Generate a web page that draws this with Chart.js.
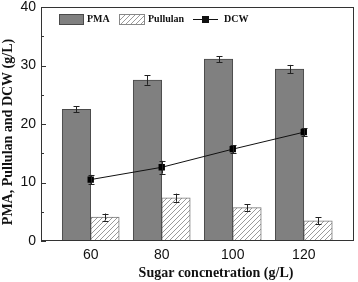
<!DOCTYPE html>
<html>
<head>
<meta charset="utf-8">
<script src="https://cdn.jsdelivr.net/npm/chart.js@4.4.1/dist/chart.umd.min.js"></script>
<style>
  html, body { margin: 0; padding: 0; background: #fff; }
  #wrap { width: 358px; height: 282px; }
</style>
</head>
<body>
<div id="wrap"><canvas id="c" width="358" height="282"></canvas></div>
<script>
// ---- Data ----
const categories = [60, 80, 100, 120];
const pmaValues = [22.5, 27.5, 31.1, 29.4];
const pmaErrors = [0.5, 0.8, 0.5, 0.7];
const pullulanValues = [4.1, 7.4, 5.7, 3.45];
const pullulanErrors = [0.6, 0.7, 0.55, 0.6];
const dcwValues = [10.5, 12.6, 15.7, 18.6];
const dcwErrors = [0.8, 1.1, 0.7, 0.7];
const yTicks = [0, 10, 20, 30, 40];
const seriesNames = ['PMA', 'Pullulan', 'DCW'];
const xTitle = 'Sugar concnetration (g/L)';
const yTitle = 'PMA, Pullulan and DCW (g/L)';

// ---- Styles ----
const PMA_FILL = '#808080';
const PMA_BORDER = '#4a4a4a';
const AXIS_COLOR = '#333333';

function makeHatch() {
  const p = document.createElement('canvas');
  p.width = 5; p.height = 5;
  const g = p.getContext('2d');
  g.fillStyle = '#ffffff';
  g.fillRect(0, 0, 5, 5);
  g.strokeStyle = '#9a9a9a';
  g.lineWidth = 1;
  g.beginPath();
  g.moveTo(-1, 6); g.lineTo(6, -1);
  g.moveTo(-1, 1); g.lineTo(1, -1);
  g.moveTo(4, 6); g.lineTo(6, 4);
  g.stroke();
  return document.getElementById('c').getContext('2d').createPattern(p, 'repeat');
}
const hatch = makeHatch();

const xy = (vals) => categories.map((c, i) => ({ x: c, y: vals[i] }));

const errorBars = {
  id: 'errorBars',
  afterDatasetsDraw(chart) {
    const ctx = chart.ctx;
    const ys = chart.scales.y;
    chart.data.datasets.forEach((ds, di) => {
      if (!ds.errors) return;
      const meta = chart.getDatasetMeta(di);
      meta.data.forEach((el, i) => {
        const v = ds.data[i].y, e = ds.errors[i];
        const x = Math.round(el.x) + 0.5;
        const yt = ys.getPixelForValue(v + e);
        const yb = ys.getPixelForValue(v - e);
        ctx.save();
        ctx.strokeStyle = '#222';
        ctx.lineWidth = 1;
        ctx.beginPath();
        ctx.moveTo(x, yt); ctx.lineTo(x, yb);
        ctx.moveTo(x - 3, Math.round(yt) + 0.5); ctx.lineTo(x + 3, Math.round(yt) + 0.5);
        ctx.moveTo(x - 3, Math.round(yb) + 0.5); ctx.lineTo(x + 3, Math.round(yb) + 0.5);
        ctx.stroke();
        ctx.restore();
      });
    });
  }
};

const frameAndDecor = {
  id: 'frameAndDecor',
  afterDraw(chart) {
    const ctx = chart.ctx;
    const a = chart.chartArea;
    const ys = chart.scales.y;
    ctx.save();
    // frame
    ctx.strokeStyle = AXIS_COLOR;
    ctx.lineWidth = 1;
    ctx.strokeRect(Math.round(a.left) + 0.5, Math.round(a.top) + 0.5,
                   Math.round(a.right - a.left) - 1, Math.round(a.bottom - a.top) - 1);
    // inward y ticks (major + minor)
    ctx.beginPath();
    for (let v = 0; v <= 40; v += 5) {
      const y = Math.round(ys.getPixelForValue(v)) + 0.5;
      const len = (v % 10 === 0) ? 5 : 3;
      ctx.moveTo(a.left, y); ctx.lineTo(a.left + len, y);
    }
    ctx.stroke();
    // axis titles
    ctx.fillStyle = '#111';
    ctx.font = 'bold 14px "Liberation Serif", "Times New Roman", serif';
    ctx.textAlign = 'center';
    ctx.textBaseline = 'middle';
    ctx.fillText(xTitle, 216, 273);
    ctx.save();
    ctx.translate(8.5, 132);
    ctx.rotate(-Math.PI / 2);
    ctx.fillText(yTitle, 0, 0);
    ctx.restore();
    // legend
    ctx.font = 'bold 10px "Liberation Serif", "Times New Roman", serif';
    ctx.textAlign = 'left';
    ctx.textBaseline = 'middle';
    const ly = 19;
    // PMA
    ctx.fillStyle = PMA_FILL;
    ctx.fillRect(59, 14, 24, 10);
    ctx.strokeStyle = PMA_BORDER;
    ctx.strokeRect(59.5, 14.5, 24, 10);
    ctx.fillStyle = '#111';
    ctx.fillText(seriesNames[0], 87, ly);
    // Pullulan
    ctx.fillStyle = hatch;
    ctx.fillRect(119, 14, 25, 10);
    ctx.strokeStyle = '#888';
    ctx.strokeRect(119.5, 14.5, 25, 10);
    ctx.fillStyle = '#111';
    ctx.fillText(seriesNames[1], 148, ly);
    // DCW
    ctx.strokeStyle = '#111';
    ctx.beginPath();
    ctx.moveTo(193, ly + 0.5); ctx.lineTo(218, ly + 0.5);
    ctx.stroke();
    ctx.fillRect(202, 16, 7, 7);
    ctx.fillText(seriesNames[2], 224, ly);
    ctx.restore();
  }
};

new Chart(document.getElementById('c'), {
  type: 'bar',
  data: {
    datasets: [
      {
        label: seriesNames[0], type: 'bar', data: xy(pmaValues), errors: pmaErrors,
        backgroundColor: PMA_FILL, borderColor: PMA_BORDER, borderWidth: 1,
        barThickness: 28.5, order: 2
      },
      {
        label: seriesNames[1], type: 'bar', data: xy(pullulanValues), errors: pullulanErrors,
        backgroundColor: hatch, borderColor: '#777', borderWidth: 1,
        barThickness: 28.5, order: 2
      },
      {
        label: seriesNames[2], type: 'line', data: xy(dcwValues), errors: dcwErrors,
        borderColor: '#111', borderWidth: 1, backgroundColor: '#000',
        pointStyle: 'rect', pointRadius: 4.5, pointBackgroundColor: '#000',
        pointBorderColor: '#000', pointBorderWidth: 0, tension: 0, order: 1
      }
    ]
  },
  options: {
    responsive: false,
    animation: false,
    devicePixelRatio: 1,
    layout: { padding: { top: 7, right: 3, left: 0, bottom: 0 } },
    plugins: { legend: { display: false }, tooltip: { enabled: false } },
    scales: {
      x: {
        type: 'linear', min: 46, max: 134, offset: false,
        afterBuildTicks: (s) => { s.ticks = categories.map(v => ({ value: v })); },
        afterFit: (s) => { s.height = 41; s.paddingLeft = 0; s.paddingRight = 0; },
        grid: { display: false, drawTicks: false, offset: false },
        border: { display: false },
        ticks: { color: '#111', padding: 6, font: { family: '"Liberation Sans", Arial, sans-serif', size: 14 } }
      },
      y: {
        min: 0, max: 40,
        afterBuildTicks: (s) => { s.ticks = yTicks.map(v => ({ value: v })); },
        afterFit: (s) => { s.width = 41; s.paddingTop = 0; s.paddingBottom = 0; },
        grid: { display: false, drawTicks: false },
        border: { display: false },
        ticks: { color: '#111', padding: 5, font: { family: '"Liberation Sans", Arial, sans-serif', size: 14 } }
      }
    }
  },
  plugins: [errorBars, frameAndDecor]
});
</script>
</body>
</html>
